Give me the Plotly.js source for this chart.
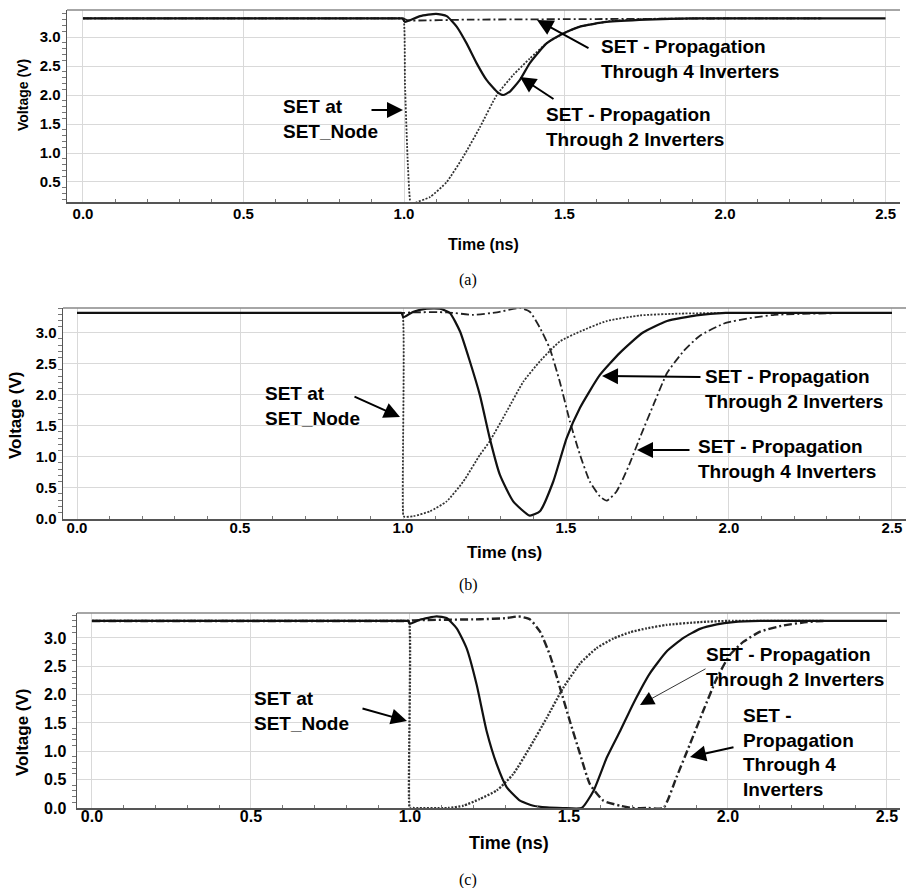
<!DOCTYPE html>
<html>
<head>
<meta charset="utf-8">
<script src="https://cdn.plot.ly/plotly-3.0.1.min.js"></script>
<style>html,body{margin:0;padding:0;background:#fff;}#chart{width:906px;height:888px;}</style>
</head>
<body>
<div id="chart"></div>
<script>
// ---------- Panel (a) ----------
var a_node_t = [0, 0.5, 0.95, 0.99, 0.998, 1.003, 1.012, 1.022, 1.035, 1.081, 1.133, 1.185, 1.237, 1.289, 1.341, 1.392, 1.444, 1.496, 1.548, 1.652, 1.75, 1.9, 2.3];
var a_node_v = [3.32, 3.32, 3.32, 3.32, 3.32, 2.2, 0.8, 0.08, 0.14, 0.24, 0.50, 0.94, 1.45, 2.00, 2.35, 2.63, 2.89, 3.06, 3.18, 3.28, 3.31, 3.32, 3.32];
var a_inv2_t = [0, 0.5, 0.95, 0.99, 0.995, 1.003, 1.05, 1.10, 1.133, 1.164, 1.195, 1.226, 1.257, 1.289, 1.309, 1.330, 1.361, 1.392, 1.444, 1.496, 1.548, 1.631, 1.756, 1.9, 2.2, 2.5];
var a_inv2_v = [3.32, 3.32, 3.32, 3.32, 3.32, 3.26, 3.36, 3.40, 3.36, 3.18, 2.89, 2.55, 2.26, 2.06, 2.00, 2.06, 2.26, 2.55, 2.89, 3.06, 3.18, 3.26, 3.30, 3.32, 3.32, 3.32];
var a_inv4_t = [0, 0.5, 0.95, 0.998, 1.01, 1.2, 1.6, 2.0, 2.3];
var a_inv4_v = [3.32, 3.32, 3.32, 3.32, 3.29, 3.30, 3.31, 3.32, 3.32];

// ---------- Panel (b) ----------
var b_node_t = [0, 0.5, 0.95, 0.99, 0.998, 1.001, 1.005, 1.032, 1.083, 1.134, 1.185, 1.236, 1.266, 1.318, 1.369, 1.420, 1.481, 1.543, 1.625, 1.727, 1.85, 2.0, 2.36];
var b_node_v = [3.32, 3.32, 3.32, 3.32, 3.32, 0.05, 0.03, 0.04, 0.12, 0.28, 0.60, 1.03, 1.25, 1.73, 2.21, 2.54, 2.86, 3.02, 3.19, 3.28, 3.31, 3.32, 3.32];
var b_inv2_t = [0, 0.5, 0.95, 0.99, 0.996, 1.001, 1.032, 1.073, 1.113, 1.144, 1.175, 1.205, 1.236, 1.266, 1.297, 1.338, 1.389, 1.420, 1.461, 1.502, 1.543, 1.604, 1.666, 1.735, 1.81, 1.90, 1.99, 2.2, 2.5];
var b_inv2_v = [3.32, 3.32, 3.32, 3.32, 3.32, 3.25, 3.34, 3.39, 3.39, 3.32, 3.02, 2.54, 1.99, 1.30, 0.71, 0.28, 0.05, 0.12, 0.60, 1.30, 1.79, 2.32, 2.68, 3.00, 3.19, 3.28, 3.32, 3.32, 3.32];
var b_inv4_t = [0, 0.5, 0.95, 0.998, 1.032, 1.134, 1.216, 1.288, 1.359, 1.389, 1.420, 1.450, 1.481, 1.512, 1.543, 1.573, 1.604, 1.625, 1.655, 1.69, 1.73, 1.77, 1.81, 1.86, 1.91, 1.99, 2.07, 2.14, 2.36];
var b_inv4_v = [3.32, 3.32, 3.32, 3.32, 3.33, 3.33, 3.29, 3.33, 3.40, 3.34, 3.08, 2.75, 2.21, 1.57, 1.03, 0.60, 0.36, 0.29, 0.44, 0.82, 1.35, 1.86, 2.35, 2.70, 2.95, 3.16, 3.24, 3.29, 3.32];

// ---------- Panel (c) ----------
var c_node_t = [0, 0.5, 0.95, 0.99, 0.997, 0.999, 1.003, 1.12, 1.168, 1.220, 1.273, 1.325, 1.377, 1.430, 1.482, 1.535, 1.587, 1.640, 1.692, 1.745, 1.807, 1.912, 2.0, 2.3];
var c_node_v = [3.30, 3.30, 3.30, 3.30, 3.30, 0.0, 0.0, 0.0, 0.04, 0.16, 0.31, 0.60, 1.07, 1.59, 2.12, 2.55, 2.82, 2.99, 3.10, 3.17, 3.23, 3.28, 3.30, 3.30];
var c_inv2_t = [0, 0.5, 0.95, 0.99, 0.996, 0.999, 1.031, 1.084, 1.115, 1.147, 1.178, 1.210, 1.241, 1.273, 1.304, 1.346, 1.388, 1.43, 1.48, 1.54, 1.577, 1.619, 1.661, 1.703, 1.755, 1.807, 1.860, 1.912, 1.965, 2.017, 2.1, 2.3, 2.5];
var c_inv2_v = [3.30, 3.30, 3.30, 3.30, 3.30, 3.25, 3.32, 3.38, 3.35, 3.17, 2.82, 2.17, 1.36, 0.77, 0.37, 0.13, 0.04, 0.01, 0.0, 0.0, 0.30, 0.89, 1.36, 1.85, 2.38, 2.76, 3.00, 3.16, 3.24, 3.28, 3.30, 3.30, 3.30];
var c_inv4_t = [0, 0.5, 0.95, 0.998, 1.01, 1.22, 1.304, 1.341, 1.377, 1.409, 1.440, 1.472, 1.503, 1.535, 1.566, 1.608, 1.661, 1.70, 1.75, 1.797, 1.838, 1.880, 1.922, 1.965, 2.006, 2.048, 2.101, 2.174, 2.248, 2.3];
var c_inv4_v = [3.30, 3.30, 3.30, 3.30, 3.31, 3.33, 3.35, 3.38, 3.33, 3.11, 2.70, 2.12, 1.53, 0.95, 0.42, 0.13, 0.04, 0.0, 0.0, 0.0, 0.54, 1.12, 1.71, 2.29, 2.70, 2.93, 3.11, 3.22, 3.28, 3.30];

var captions = ['(a)', '(b)', '(c)'];
var xTitle = 'Time (ns)';
var yTitle = 'Voltage (V)';
var lblNode = 'SET at<br>SET_Node';
var lbl2 = 'SET - Propagation<br>Through 2 Inverters';
var lbl4 = 'SET - Propagation<br>Through 4 Inverters';
var lbl4c = 'SET -<br>Propagation<br>Through 4<br>Inverters';

var W = 906, H = 888;
function P(x) { return x / W; }
function Q(y) { return 1 - y / H; }

function tr(t, v, ax, ay, style) {
  var o = {x: t, y: v, xaxis: ax, yaxis: ay, type: 'scatter', mode: 'lines', cliponaxis: true,
           line: {shape: 'spline', smoothing: 0.5, color: '#000'}, showlegend: false, hoverinfo: 'skip'};
  if (style === 'solid') { o.line.width = 2.2; o.line.color = '#111'; }
  if (style === 'dot') { o.line.width = 1.8; o.line.dash = '2px,1.5px'; o.line.color = '#333'; }
  if (style === 'dashdot') { o.line.width = 1.8; o.line.dash = '8px,3px,2px,3px'; o.line.color = '#222'; }
  return o;
}

var data = [
  tr(a_inv4_t, a_inv4_v, 'x', 'y', 'dashdot'),
  tr(a_node_t, a_node_v, 'x', 'y', 'dot'),
  tr(a_inv2_t, a_inv2_v, 'x', 'y', 'solid'),
  tr(b_inv4_t, b_inv4_v, 'x2', 'y2', 'dashdot'),
  tr(b_node_t, b_node_v, 'x2', 'y2', 'dot'),
  tr(b_inv2_t, b_inv2_v, 'x2', 'y2', 'solid'),
  tr(c_inv4_t, c_inv4_v, 'x3', 'y3', 'dashdot'),
  tr(c_node_t, c_node_v, 'x3', 'y3', 'dot'),
  tr(c_inv2_t, c_inv2_v, 'x3', 'y3', 'solid')
];
data[6].line.width = 2.4;
data[7].line.width = 2.3;

var tickFont = {family: 'Liberation Sans, Arial, sans-serif', size: 15, weight: 'bold', color: '#000'};

function xax(domain, range, anchor, standoff, fs) {
  return {domain: domain, range: range, anchor: anchor, dtick: 0.5, tick0: 0, tickformat: '.1f',
          showline: true, linecolor: '#555', linewidth: 1.5, showgrid: true, gridcolor: '#d9d9d9', gridwidth: 1,
          zeroline: false, ticks: '', ticklabelstandoff: standoff,
          tickfont: Object.assign({}, tickFont, {size: fs}),
          minor: {dtick: 0.1, tick0: 0, ticks: 'inside', ticklen: 3, tickcolor: '#777', tickwidth: 1, showgrid: false}};
}
function yax(domain, range, anchor, standoff, fs) {
  return {domain: domain, range: range, anchor: anchor, dtick: 0.5, tick0: 0, tickformat: '.1f',
          showline: true, linecolor: '#555', linewidth: 1.5, showgrid: true, gridcolor: '#d9d9d9', gridwidth: 1,
          zeroline: false, ticks: '', ticklabelstandoff: standoff,
          tickfont: Object.assign({}, tickFont, {size: fs}),
          minor: {dtick: 0.1, tick0: 0, ticks: 'outside', ticklen: 4, tickcolor: '#777', tickwidth: 1, showgrid: false}};
}

var annFont = {family: 'Liberation Sans, Arial, sans-serif', size: 19, weight: 'bold', color: '#000'};
function txt(x, y, s) {
  return {xref: 'paper', yref: 'paper', x: P(x), y: Q(y), xanchor: 'left', yanchor: 'middle', align: 'left',
          text: s, showarrow: false, font: annFont};
}
function arr(tx, ty, hx, hy, w, sz) {
  return {xref: 'paper', yref: 'paper', x: P(hx), y: Q(hy), ax: tx - hx, ay: ty - hy, text: '',
          showarrow: true, arrowhead: 2, arrowsize: sz || 1.6, arrowwidth: w || 2, arrowcolor: '#000', standoff: 0, startstandoff: 0};
}
function cap(x, y, s) {
  return {xref: 'paper', yref: 'paper', x: P(x), y: Q(y), xanchor: 'center', yanchor: 'middle', text: s, showarrow: false,
          font: {family: 'Liberation Serif, Times New Roman, serif', size: 16, color: '#000'}};
}
function xt(x, y, fs) {
  return {xref: 'paper', yref: 'paper', x: P(x), y: Q(y), xanchor: 'center', yanchor: 'middle', text: xTitle, showarrow: false,
          font: {family: 'Liberation Sans, Arial, sans-serif', size: fs, weight: 'bold', color: '#000'}};
}
function yt(x, y, fs) {
  return {xref: 'paper', yref: 'paper', x: P(x), y: Q(y), xanchor: 'center', yanchor: 'middle', text: yTitle, showarrow: false, textangle: -90,
          font: {family: 'Liberation Sans, Arial, sans-serif', size: fs, weight: 'bold', color: '#000'}};
}

function topLine(xr, yr) {
  return {type: 'line', xref: xr + ' domain', yref: yr + ' domain', x0: 0, x1: 1, y0: 1, y1: 1,
          line: {color: '#888', width: 1.5}};
}

var layout = {
  width: W, height: H, margin: {l: 0, r: 0, t: 0, b: 0},
  paper_bgcolor: '#fff', plot_bgcolor: '#fff', showlegend: false,
  xaxis: xax([P(67), P(900)], [-0.0498, 2.545], 'y', -3, 15),
  yaxis: yax([Q(202), Q(10)], [0.155, 3.466], 'x', 2, 15),
  xaxis2: xax([P(63), P(906)], [-0.043, 2.543], 'y2', -6, 15),
  yaxis2: yax([Q(519), Q(308)], [-0.005, 3.40], 'x2', 2, 15),
  xaxis3: xax([P(77), P(900)], [-0.047, 2.541], 'y3', -7, 16),
  yaxis3: yax([Q(808), Q(613)], [0, 3.44], 'x3', 6, 16),
  shapes: [topLine('x', 'y'), topLine('x2', 'y2'), topLine('x3', 'y3')],
  annotations: [
    // panel (a)
    txt(281, 118.5, lblNode), arr(370, 110, 403, 110),
    txt(599, 59, lbl4), arr(590, 49, 537, 20),
    txt(544, 126.5, lbl2), arr(555, 100, 520, 77),
    xt(484, 244, 16), yt(23, 95, 14), cap(468, 280, captions[0]),
    // panel (b)
    txt(263, 405.5, lblNode), arr(353, 396, 400, 417),
    txt(703, 389, lbl2), arr(702, 377, 602, 376),
    txt(696, 459, lbl4), arr(691, 450, 637, 450),
    xt(505, 552, 17), yt(15, 415, 17), cap(468, 585, captions[1]),
    // panel (c)
    txt(252, 710.5, lblNode), arr(361, 708, 407, 721),
    txt(704, 667, lbl2), arr(707, 668, 640, 705, 0.8, 3.5),
    txt(741, 752.5, lbl4c), arr(735, 747, 690, 757),
    xt(509, 843, 18), yt(22, 732, 17), cap(468, 880, captions[2])
  ]
};

Plotly.newPlot('chart', data, layout, {staticPlot: true, displayModeBar: false});
</script>
</body>
</html>
